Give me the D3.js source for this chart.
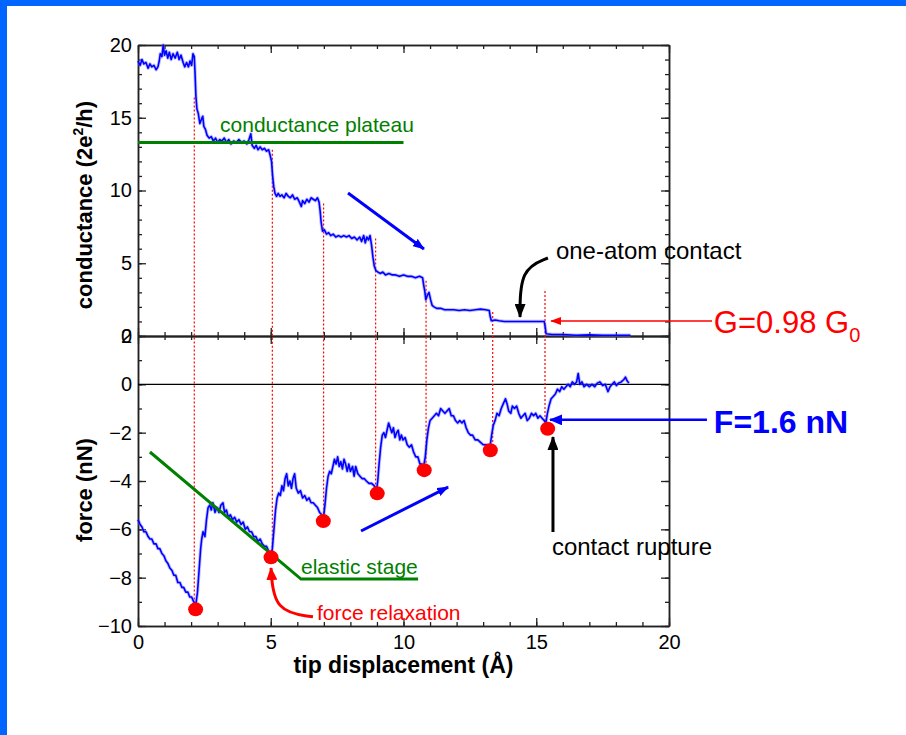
<!DOCTYPE html>
<html>
<head>
<meta charset="utf-8">
<script src="https://cdn.jsdelivr.net/npm/d3@7"></script>
<style>
body { margin: 0; background: #fff; }
text { font-family: "Liberation Sans", Arial, sans-serif; }
</style>
</head>
<body>
<div id="chart"></div>
<script>
'use strict';

// ---- data ----
var xTicks = [0, 5, 10, 15, 20];
var condTicks = [0, 5, 10, 15, 20];
var forceTicks = [-10, -8, -6, -4, -2, 0, 2];

// conductance (2e^2/h) vs tip displacement (A)
var conductance = [[0.00,18.9],[0.08,18.6],[0.15,19.0],[0.22,18.7],[0.30,18.8],[0.38,18.4],[0.45,18.7],[0.52,18.5],[0.60,18.6],[0.68,18.3],[0.75,18.5],[0.80,18.9],[0.84,19.4],[0.90,19.2],[0.95,20.0],[1.00,19.3],[1.06,19.6],[1.12,19.1],[1.18,19.5],[1.25,19.0],[1.32,19.4],[1.40,19.1],[1.48,19.5],[1.55,19.0],[1.62,19.3],[1.70,18.8],[1.76,18.5],[1.83,18.8],[1.90,18.5],[1.96,18.9],[2.02,18.6],[2.07,19.4],[2.12,19.2],[2.15,18.0],[2.18,16.5],[2.22,15.6],[2.27,15.3],[2.33,14.6],[2.39,14.9],[2.44,15.1],[2.48,14.4],[2.54,14.2],[2.60,13.8],[2.68,13.6],[2.76,13.7],[2.84,13.4],[2.92,13.6],[3.00,13.3],[3.08,13.5],[3.16,13.4],[3.25,13.6],[3.33,13.3],[3.42,13.5],[3.50,13.2],[3.60,13.4],[3.70,13.3],[3.80,13.5],[3.90,13.3],[4.00,13.4],[4.10,13.2],[4.18,13.5],[4.25,13.9],[4.30,13.1],[4.38,12.9],[4.45,13.1],[4.52,12.8],[4.60,13.0],[4.68,12.8],[4.76,12.9],[4.84,12.7],[4.92,12.8],[4.98,12.4],[5.03,12.0],[5.07,11.0],[5.11,10.3],[5.16,9.8],[5.22,9.6],[5.28,9.8],[5.35,9.6],[5.42,9.7],[5.50,9.5],[5.58,9.8],[5.66,9.6],[5.74,9.5],[5.82,9.7],[5.90,9.4],[6.00,9.5],[6.08,9.2],[6.15,8.9],[6.20,9.3],[6.28,9.1],[6.36,9.4],[6.44,9.2],[6.52,9.5],[6.60,9.4],[6.68,9.3],[6.76,9.5],[6.82,9.2],[6.86,8.6],[6.90,7.8],[6.95,7.2],[7.02,7.3],[7.10,7.0],[7.18,7.1],[7.26,6.9],[7.35,7.0],[7.45,6.8],[7.55,6.9],[7.65,6.8],[7.75,6.9],[7.85,6.8],[7.95,6.9],[8.05,6.7],[8.15,6.8],[8.25,6.6],[8.35,6.8],[8.42,6.5],[8.50,6.9],[8.56,6.4],[8.62,6.8],[8.68,6.6],[8.74,6.9],[8.80,6.2],[8.85,5.4],[8.90,4.8],[8.96,4.5],[9.03,4.4],[9.12,4.3],[9.22,4.4],[9.32,4.2],[9.45,4.3],[9.58,4.2],[9.70,4.2],[9.85,4.1],[10.00,4.2],[10.15,4.1],[10.30,4.1],[10.45,4.0],[10.60,4.1],[10.72,4.0],[10.76,3.5],[10.80,3.1],[10.84,2.5],[10.90,2.8],[10.96,3.0],[11.02,2.5],[11.08,2.1],[11.15,2.0],[11.25,1.9],[11.40,1.9],[11.55,1.8],[11.70,1.8],[11.90,1.8],[12.10,1.75],[12.30,1.8],[12.50,1.75],[12.70,1.8],[12.90,1.85],[13.10,1.8],[13.23,1.75],[13.27,1.3],[13.31,1.05],[13.45,1.1],[13.60,1.05],[13.80,1.0],[14.00,1.0],[14.40,1.0],[14.80,1.0],[15.10,1.0],[15.30,1.0],[15.34,0.6],[15.37,0.15],[15.60,0.1],[16.00,0.1],[16.50,0.05],[17.00,0.08],[17.50,0.05],[18.00,0.05],[18.55,0.05]];

// force (nN) vs tip displacement (A)
var force = [[0.00,-5.6],[0.08,-5.8],[0.15,-5.9],[0.22,-6.1],[0.30,-6.1],[0.38,-6.3],[0.45,-6.4],[0.52,-6.4],[0.60,-6.6],[0.68,-6.6],[0.75,-6.8],[0.82,-6.8],[0.90,-7.0],[0.98,-7.1],[1.05,-7.3],[1.12,-7.4],[1.20,-7.6],[1.28,-7.7],[1.35,-7.9],[1.42,-7.9],[1.50,-8.2],[1.58,-8.2],[1.65,-8.4],[1.72,-8.4],[1.80,-8.6],[1.88,-8.6],[1.95,-8.8],[2.02,-8.8],[2.10,-9.0],[2.18,-9.1],[2.24,-8.6],[2.30,-7.7],[2.36,-6.8],[2.40,-6.4],[2.45,-6.1],[2.52,-6.3],[2.58,-5.6],[2.64,-5.1],[2.70,-5.0],[2.76,-5.2],[2.82,-4.9],[2.90,-5.3],[2.97,-5.1],[3.05,-5.3],[3.12,-5.0],[3.20,-4.9],[3.26,-5.3],[3.33,-5.2],[3.40,-5.5],[3.48,-5.4],[3.56,-5.6],[3.64,-5.5],[3.72,-5.7],[3.80,-5.6],[3.88,-5.8],[3.96,-5.7],[4.04,-6.0],[4.12,-5.9],[4.20,-6.1],[4.28,-6.1],[4.36,-6.3],[4.44,-6.3],[4.52,-6.5],[4.60,-6.4],[4.68,-6.6],[4.76,-6.7],[4.84,-6.7],[4.92,-6.9],[5.00,-7.1],[5.06,-6.8],[5.12,-6.0],[5.18,-5.2],[5.24,-4.7],[5.30,-4.5],[5.36,-4.6],[5.42,-4.2],[5.48,-4.4],[5.54,-3.9],[5.60,-3.7],[5.66,-4.2],[5.72,-4.0],[5.78,-4.3],[5.84,-3.9],[5.90,-3.7],[5.96,-4.3],[6.04,-4.5],[6.12,-4.4],[6.20,-4.7],[6.28,-4.6],[6.36,-4.8],[6.44,-4.7],[6.52,-4.9],[6.60,-4.9],[6.68,-5.0],[6.76,-5.1],[6.84,-5.3],[6.92,-5.4],[6.98,-5.6],[7.04,-5.0],[7.10,-4.3],[7.16,-3.8],[7.22,-3.6],[7.28,-3.7],[7.34,-3.4],[7.40,-3.1],[7.46,-3.3],[7.52,-3.0],[7.58,-3.4],[7.64,-3.2],[7.70,-3.5],[7.76,-3.1],[7.82,-3.3],[7.88,-3.6],[7.94,-3.3],[8.00,-3.6],[8.08,-3.4],[8.14,-3.8],[8.20,-3.4],[8.28,-3.7],[8.36,-3.8],[8.44,-3.9],[8.52,-3.9],[8.60,-4.0],[8.70,-4.1],[8.80,-4.1],[8.90,-4.2],[8.98,-4.4],[9.03,-4.0],[9.08,-3.3],[9.14,-2.6],[9.20,-2.1],[9.26,-2.0],[9.32,-2.2],[9.38,-1.9],[9.44,-1.6],[9.50,-1.8],[9.56,-2.0],[9.62,-1.8],[9.68,-2.2],[9.74,-2.0],[9.80,-1.9],[9.86,-2.3],[9.92,-2.1],[9.98,-2.3],[10.06,-2.2],[10.14,-2.5],[10.22,-2.6],[10.30,-2.5],[10.38,-2.8],[10.46,-3.0],[10.54,-3.0],[10.62,-3.3],[10.70,-3.3],[10.76,-3.4],[10.82,-3.0],[10.88,-2.3],[10.94,-1.8],[11.00,-1.5],[11.08,-1.4],[11.16,-1.3],[11.24,-1.2],[11.32,-1.3],[11.40,-1.0],[11.48,-1.1],[11.56,-1.2],[11.64,-1.1],[11.72,-1.0],[11.80,-1.3],[11.88,-1.3],[11.96,-1.5],[12.04,-1.6],[12.12,-1.5],[12.20,-1.6],[12.28,-1.5],[12.36,-1.8],[12.44,-2.0],[12.52,-2.1],[12.60,-2.1],[12.70,-2.3],[12.80,-2.3],[12.90,-2.4],[13.00,-2.5],[13.10,-2.5],[13.20,-2.5],[13.27,-2.5],[13.32,-2.1],[13.38,-1.7],[13.45,-1.5],[13.52,-1.2],[13.60,-1.3],[13.68,-1.0],[13.76,-0.8],[13.84,-0.6],[13.90,-0.8],[13.96,-1.1],[14.04,-1.2],[14.10,-0.9],[14.18,-1.0],[14.26,-0.9],[14.34,-1.2],[14.42,-1.4],[14.50,-1.3],[14.58,-1.2],[14.66,-1.5],[14.74,-1.4],[14.82,-1.2],[14.90,-1.3],[14.98,-1.2],[15.06,-1.4],[15.14,-1.3],[15.22,-1.4],[15.30,-1.5],[15.36,-1.6],[15.42,-1.2],[15.48,-0.9],[15.56,-0.6],[15.64,-0.5],[15.72,-0.4],[15.80,-0.2],[15.88,-0.3],[15.96,-0.1],[16.04,-0.2],[16.12,-0.1],[16.20,0.0],[16.28,-0.1],[16.36,0.1],[16.44,0.0],[16.52,0.1],[16.58,0.45],[16.64,0.0],[16.72,0.1],[16.80,-0.1],[16.90,0.0],[17.00,-0.1],[17.10,0.0],[17.20,-0.1],[17.30,0.05],[17.40,0.1],[17.50,-0.05],[17.60,0.0],[17.70,-0.3],[17.78,-0.1],[17.86,0.0],[17.94,0.1],[18.02,-0.05],[18.10,0.05],[18.20,0.1],[18.30,0.2],[18.36,0.3],[18.42,0.15],[18.49,0.05]];

// conductance steps and the force minima they line up with
var stepX = [2.12, 5.06, 6.99, 8.95, 10.85, 13.36, 15.33];
var stepTopG = [16.4, 12.8, 9.1, 6.7, 3.8, 1.65, 3.1];
var minima = [[2.17,-9.31],[5.01,-7.16],[6.98,-5.66],[9.01,-4.51],[10.78,-3.55],[13.27,-2.73],[15.43,-1.84]];

var plateauLine = [[0, 13.3], [10, 13.3]];
var elasticLine = [[0.45, -2.8], [6.14, -8.06], [10.55, -8.06]];

// annotation arrows, data units [x, y]
var condArrow = [[7.91, 9.83], [10.77, 5.98]];
var oneAtomArrow = [[15.44, 5.36], [14.39, 4.6], [14.39, 1.31]];
var gArrow = [[21.62, 1.03], [15.56, 1.03]];
var forceArrow = [[8.4, -6.07], [11.68, -4.25]];
var relaxArrow = [[6.59, -9.62], [5.12, -9.4], [5.01, -7.6]];
var fArrow = [[21.43, -1.47], [15.52, -1.47]];
var ruptureArrow = [[15.63, -6.11], [15.63, -2.18]];

var chart = {};
chart.w = 906;
chart.h = 735;
chart.left = 138;
chart.right = 669;
chart.top = 45;
chart.mid = 336;
chart.bottom = 626;

chart.x = d3.scaleLinear().domain([0, 20]).range([chart.left, chart.right]);
chart.yG = d3.scaleLinear().domain([0, 20]).range([chart.mid, chart.top]);
chart.yF = d3.scaleLinear().domain([-10, 2]).range([chart.bottom, chart.mid]);

chart.svg = d3.select('#chart').append('svg')
    .attr('width', chart.w)
    .attr('height', chart.h);

chart.svg.append('rect').attr('width', chart.w).attr('height', chart.h).attr('fill', '#fff');
// slide frame
chart.svg.append('rect').attr('x', 0).attr('y', 0).attr('width', chart.w).attr('height', 6).attr('fill', '#0066ff');
chart.svg.append('rect').attr('x', 0).attr('y', 0).attr('width', 7).attr('height', chart.h).attr('fill', '#0066ff');

chart.addMarker = function (id, color, len, wid) {
    var defs = chart.svg.select('defs').empty() ? chart.svg.append('defs') : chart.svg.select('defs');
    defs.append('marker')
        .attr('id', id)
        .attr('markerUnits', 'userSpaceOnUse')
        .attr('markerWidth', len)
        .attr('markerHeight', wid)
        .attr('refX', len - 1)
        .attr('refY', wid / 2)
        .attr('orient', 'auto')
      .append('path')
        .attr('d', 'M0,0L' + len + ',' + (wid / 2) + 'L0,' + wid + 'Z')
        .attr('fill', color);
};
chart.addMarker('headBlue', '#0000ff', 12, 9);
chart.addMarker('headBlack', '#000', 14, 11);
chart.addMarker('headRed', '#ff0000', 11, 8);
chart.addMarker('headRedBig', '#ff0000', 13, 11);
chart.addMarker('headBlueBig', '#0000ff', 13, 11);

// axes: one call per side, major and minor
chart.axis = function (gen, scale, where, values, size, labels) {
    var a = gen(scale).tickValues(values).tickSize(size).tickSizeOuter(0);
    if (!labels) a.tickFormat('');
    else a.tickPadding(labels);
    var g = chart.svg.append('g').attr('transform', where).call(a);
    g.select('.domain').attr('stroke', '#222').attr('stroke-width', 1.5);
    g.selectAll('.tick line').attr('stroke', '#222').attr('stroke-width', 1.3);
    g.selectAll('text').attr('font-size', 20).attr('fill', '#000')
        .style('font-family', '"Liberation Sans", Arial, sans-serif');
    return g;
};
var minorX = d3.range(0, 21, 1);
var minorG = d3.range(0, 21, 1);
var minorF = d3.range(-10, 3, 1);

// top panel frame
chart.axis(d3.axisTop, chart.x, 'translate(0,' + chart.top + ')', minorX, -4);
chart.axis(d3.axisTop, chart.x, 'translate(0,' + chart.top + ')', xTicks, -8);
chart.axis(d3.axisBottom, chart.x, 'translate(0,' + chart.mid + ')', minorX, -4);
chart.axis(d3.axisBottom, chart.x, 'translate(0,' + chart.mid + ')', xTicks, -8);
chart.axis(d3.axisLeft, chart.yG, 'translate(' + chart.left + ',0)', minorG, -4);
chart.axis(d3.axisLeft, chart.yG, 'translate(' + chart.left + ',0)', condTicks, -8, 6);
chart.axis(d3.axisRight, chart.yG, 'translate(' + chart.right + ',0)', minorG, -4);
chart.axis(d3.axisRight, chart.yG, 'translate(' + chart.right + ',0)', condTicks, -8);

// bottom panel frame
chart.axis(d3.axisTop, chart.x, 'translate(0,' + chart.mid + ')', minorX, -4);
chart.axis(d3.axisTop, chart.x, 'translate(0,' + chart.mid + ')', xTicks, -8);
chart.axis(d3.axisBottom, chart.x, 'translate(0,' + chart.bottom + ')', minorX, -4);
chart.axis(d3.axisBottom, chart.x, 'translate(0,' + chart.bottom + ')', xTicks, -8, 9);
chart.axis(d3.axisLeft, chart.yF, 'translate(' + chart.left + ',0)', minorF, -4);
chart.axis(d3.axisLeft, chart.yF, 'translate(' + chart.left + ',0)', forceTicks, -8, 6);
chart.axis(d3.axisRight, chart.yF, 'translate(' + chart.right + ',0)', minorF, -4);
chart.axis(d3.axisRight, chart.yF, 'translate(' + chart.right + ',0)', forceTicks, -8);

// zero force line
chart.svg.append('line')
    .attr('x1', chart.x(0)).attr('x2', chart.x(20))
    .attr('y1', chart.yF(0)).attr('y2', chart.yF(0))
    .attr('stroke', '#000').attr('stroke-width', 1.2);

// dotted guides from each conductance step down to the force minimum
chart.svg.append('g').selectAll('line').data(stepX).enter()
    .append('line')
    .attr('x1', function (d) { return chart.x(d); })
    .attr('x2', function (d) { return chart.x(d); })
    .attr('y1', function (d, i) { return chart.yG(stepTopG[i]); })
    .attr('y2', function (d, i) { return chart.yF(minima[i][1]); })
    .attr('stroke', '#ff0000')
    .attr('stroke-width', 1.2)
    .attr('stroke-dasharray', '2,2');

// traces
chart.trace = function (data, yScale) {
    var line = d3.line()
        .x(function (d) { return chart.x(d[0]); })
        .y(function (d) { return yScale(d[1]); });
    chart.svg.append('path').attr('d', line(data))
        .attr('fill', 'none').attr('stroke', '#7070ff').attr('stroke-width', 3.4)
        .attr('stroke-opacity', 0.45).attr('stroke-linejoin', 'round');
    chart.svg.append('path').attr('d', line(data))
        .attr('fill', 'none').attr('stroke', '#0000ff').attr('stroke-width', 1.6)
        .attr('stroke-linejoin', 'round');
};
chart.trace(conductance, chart.yG);
chart.trace(force, chart.yF);

// green guide lines
chart.poly = function (data, yScale, color, width, marker, curve) {
    var line = d3.line()
        .x(function (d) { return chart.x(d[0]); })
        .y(function (d) { return yScale(d[1]); });
    if (curve) line.curve(d3.curveBundle.beta(1));
    var p = chart.svg.append('path').attr('d', line(data))
        .attr('fill', 'none').attr('stroke', color).attr('stroke-width', width);
    if (marker) p.attr('marker-end', 'url(#' + marker + ')');
    return p;
};
chart.poly(plateauLine, chart.yG, '#008000', 3);
chart.poly(elasticLine, chart.yF, '#008000', 3);

// red dots at the force minima
chart.svg.append('g').selectAll('circle').data(minima).enter()
    .append('ellipse')
    .attr('cx', function (d) { return chart.x(d[0]); })
    .attr('cy', function (d) { return chart.yF(d[1]); })
    .attr('rx', 7.5).attr('ry', 7)
    .attr('fill', '#ff0000');

// arrows
chart.poly(condArrow, chart.yG, '#0000ff', 3, 'headBlue');
chart.poly(oneAtomArrow, chart.yG, '#000', 3, 'headBlack', true);
chart.poly(gArrow, chart.yG, '#ff0000', 1.5, 'headRed');
chart.poly(forceArrow, chart.yF, '#0000ff', 3, 'headBlue');
chart.poly(relaxArrow, chart.yF, '#ff0000', 3, 'headRedBig', true);
chart.poly(fArrow, chart.yF, '#0000ff', 2.5, 'headBlueBig');
chart.poly(ruptureArrow, chart.yF, '#000', 3, 'headBlack');

// labels
chart.label = function (txt, x, y, size, color, weight) {
    return chart.svg.append('text')
        .attr('x', x).attr('y', y)
        .attr('font-size', size)
        .attr('fill', color)
        .attr('font-weight', weight || 'normal')
        .text(txt);
};
chart.label('conductance plateau', chart.x(3.09), chart.yG(14.04), 21, '#008000');
chart.label('one-atom contact', chart.x(15.74), chart.yG(5.3), 24, '#000');
var gLab = chart.label('G=0.98 G', chart.x(21.69), chart.yG(0.21), 31, '#ff0000');
gLab.append('tspan').attr('font-size', 20).attr('dy', 9).text('0');
chart.label('elastic stage', chart.x(6.14), chart.yF(-7.85), 21, '#008000');
chart.label('force relaxation', chart.x(6.74), chart.yF(-9.75), 21, '#ff0000');
chart.label('F=1.6 nN', chart.x(21.69), chart.yF(-2.01), 32, '#0000ff', 'bold');
chart.label('contact rupture', chart.x(15.59), chart.yF(-7.06), 24, '#000');

// axis titles
chart.svg.append('text')
    .attr('x', (chart.left + chart.right) / 2).attr('y', 673)
    .attr('text-anchor', 'middle').attr('font-size', 23).attr('font-weight', 'bold')
    .text('tip displacement (\u00c5)');

var gt = chart.svg.append('text')
    .attr('transform', 'translate(92,' + 205 + ') rotate(-90)')
    .attr('text-anchor', 'middle').attr('font-size', 22).attr('font-weight', 'bold');
gt.append('tspan').text('conductance (2e');
gt.append('tspan').attr('font-size', 14).attr('dy', -9).text('2');
gt.append('tspan').attr('dy', 9).text('/h)');

chart.svg.append('text')
    .attr('transform', 'translate(92,' + 490 + ') rotate(-90)')
    .attr('text-anchor', 'middle').attr('font-size', 22).attr('font-weight', 'bold')
    .text('force (nN)');
</script>
</body>
</html>
